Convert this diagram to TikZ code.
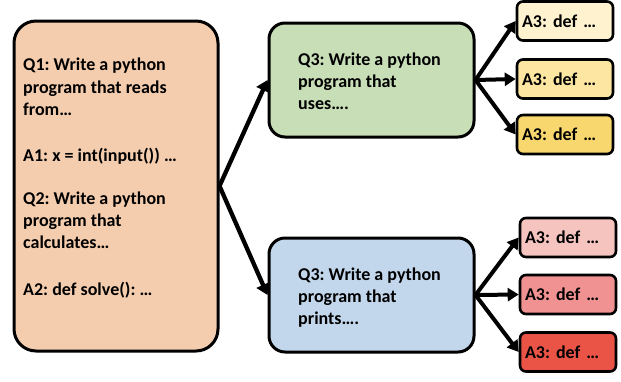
\documentclass[tikz,border=0pt]{standalone}
\usepackage{fontspec}
\setmainfont{Carlito}
\usetikzlibrary{arrows.meta}
\frenchspacing
\definecolor{peach}{HTML}{F4CDAE}
\definecolor{greenbox}{HTML}{C8DEB7}
\definecolor{bluebox}{HTML}{C3D7EC}
\definecolor{yA}{HTML}{FEF2CF}
\definecolor{yB}{HTML}{FDE6A1}
\definecolor{yC}{HTML}{F8D76E}
\definecolor{rA}{HTML}{F5C4BF}
\definecolor{rB}{HTML}{F09292}
\definecolor{rC}{HTML}{EA5446}
\tikzset{
  txt/.style={font=\bfseries\frenchspacing\fontsize{18}{22.3}\selectfont, align=left, inner sep=0pt, anchor=north west},
  bigbox/.style={draw=black, line width=3pt, rounded corners=22pt, minimum width=204pt, minimum height=330pt, inner sep=0pt},
  midbox/.style={draw=black, line width=3pt, rounded corners=16pt, minimum width=205pt, minimum height=114pt, inner sep=0pt},
  ansbox/.style={draw=black, line width=2.6pt, rounded corners=6pt, minimum width=96pt, minimum height=39pt, text width=86pt, inner xsep=5pt, inner ysep=0pt, align=left, font=\bfseries\frenchspacing\fontsize{18}{22}\selectfont},
  bigarr/.style={line width=4.3pt, -{Triangle[length=11pt,width=14pt]}},
  smallarr/.style={line width=4pt, -{Triangle[length=11pt,width=13pt]}}
}
\begin{document}
\begin{tikzpicture}[x=1pt,y=-1pt]
\useasboundingbox (0,0) rectangle (621,381);
% boxes
\node[bigbox, fill=peach] (big) at (116,186) {};
\node[midbox, fill=greenbox] (green) at (371.5,80) {};
\node[midbox, fill=bluebox] (blue) at (371.5,295) {};
% texts
\node[txt] (t1) at (23,58) {Q1: Write a python\\program that reads\\from…\\[24pt]A1: x = int(input()) …\\[20pt]Q2: Write a python\\program that\\calculates…\\[25pt]A2: def solve(): …};
\node[txt] (t2) at (298,52.5) {Q3: Write a python\\program that\\uses….};
\node[txt] (t3) at (298,267.5) {Q3: Write a python\\program that\\prints….};
% answers
\node[ansbox, fill=yA] (a1) at (565,21) {A3: def …};
\node[ansbox, fill=yB] (a2) at (565,79) {A3: def …};
\node[ansbox, fill=yC] (a3) at (565,134.5) {A3: def …};
\node[ansbox, fill=rA] (a4) at (568,237.5) {A3: def …};
\node[ansbox, fill=rB] (a5) at (568,294.5) {A3: def …};
\node[ansbox, fill=rC] (a6) at (568,352) {A3: def …};
% arrows
\draw[bigarr] (big.east) -- (green.west);
\draw[bigarr] (big.east) -- (blue.west);
\draw[smallarr] (green.east) -- (a1.west);
\draw[smallarr] (green.east) -- (a2.west);
\draw[smallarr] (green.east) -- (a3.west);
\draw[smallarr] (blue.east) -- (a4.west);
\draw[smallarr] (blue.east) -- (a5.west);
\draw[smallarr] (blue.east) -- (a6.west);
\end{tikzpicture}
\end{document}
